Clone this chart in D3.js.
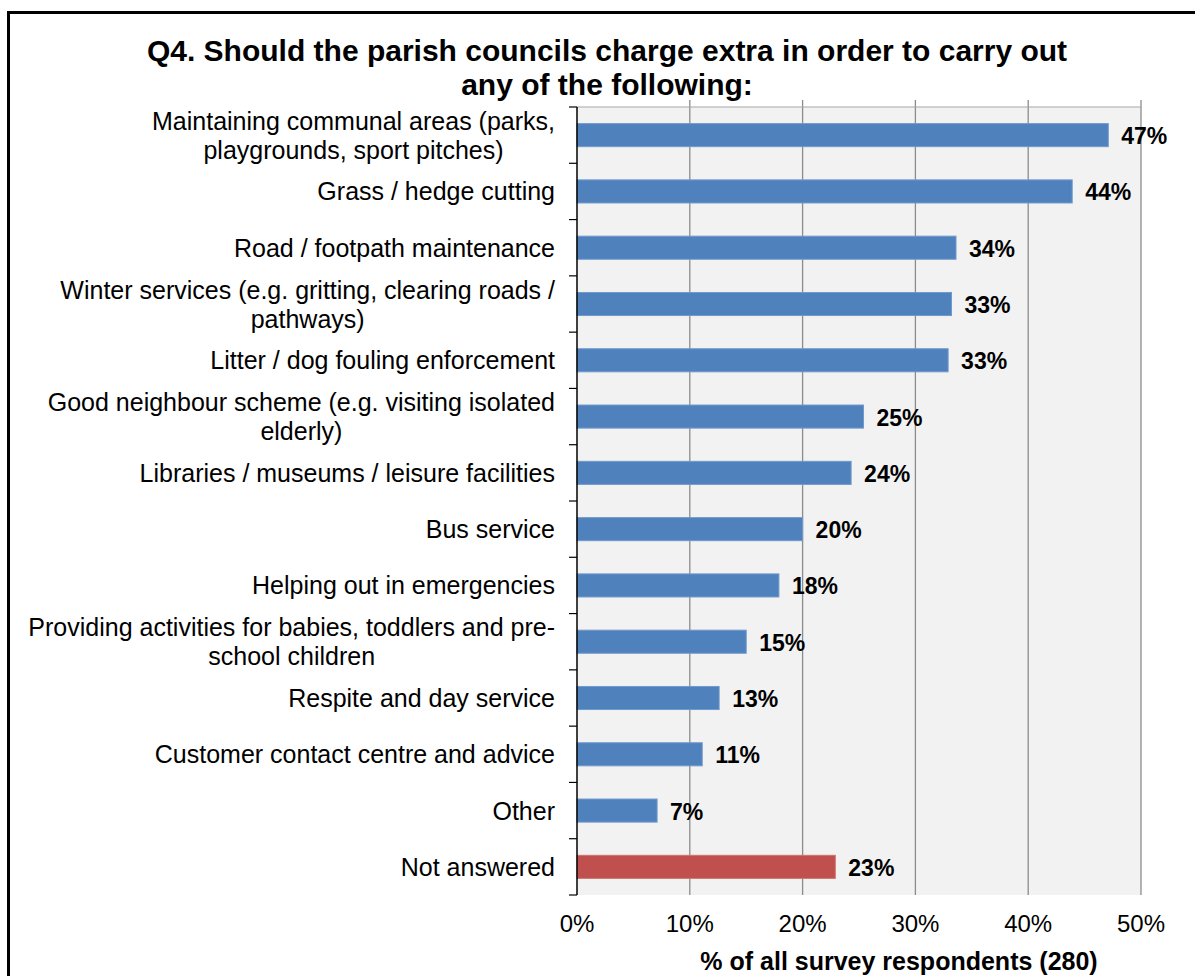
<!DOCTYPE html>
<html>
<head>
<meta charset="utf-8">
<script src="https://cdn.jsdelivr.net/npm/d3@7"></script>
<style>
  html, body { margin: 0; padding: 0; background: #fff; }
  svg { display: block; font-family: "Liberation Sans", Arial, sans-serif; }
</style>
</head>
<body>
<svg id="chart" width="1195" height="976"></svg>
<script>
// categories, top to bottom ("|" marks the line break used in the picture)
const categories = [
  "Maintaining communal areas (parks,|playgrounds, sport pitches)",
  "Grass / hedge cutting",
  "Road / footpath maintenance",
  "Winter services (e.g. gritting, clearing roads /|pathways)",
  "Litter / dog fouling enforcement",
  "Good neighbour scheme (e.g. visiting isolated|elderly)",
  "Libraries / museums / leisure facilities",
  "Bus service",
  "Helping out in emergencies",
  "Providing activities for babies, toddlers and pre-|school children",
  "Respite and day service",
  "Customer contact centre and advice",
  "Other",
  "Not answered"
];
// % of all survey respondents (280)
const values = [47.1, 43.9, 33.6, 33.2, 32.9, 25.4, 24.3, 20.0, 17.9, 15.0, 12.6, 11.1, 7.1, 22.9];
const xTicks = [0, 10, 20, 30, 40, 50];
const titleLines = ["Q4. Should the parish councils charge extra in order to carry out", "any of the following:"];
const xTitle = "% of all survey respondents (280)";

const svg = d3.select("#chart");

// outer frame (left + top edges visible in picture)
svg.append("path")
  .attr("d", "M8.5,976 L8.5,12.5 L1195,12.5")
  .attr("fill", "none").attr("stroke", "#000").attr("stroke-width", 3);

const m = {left: 577, right: 1141, top: 107, bottom: 895};

const x = d3.scaleLinear().domain([0, 50]).range([m.left, m.right]);
const y = d3.scaleBand().domain(d3.range(categories.length))
  .range([m.top, m.bottom]).paddingInner(0.59).paddingOuter(0.295);

// plot background
svg.append("rect")
  .attr("x", m.left).attr("y", m.top)
  .attr("width", m.right - m.left).attr("height", m.bottom - m.top)
  .attr("fill", "#f2f2f2");

// vertical gridlines
svg.append("g").selectAll("line").data(xTicks.slice(1)).join("line")
  .attr("x1", d => x(d)).attr("x2", d => x(d))
  .attr("y1", m.top - 7).attr("y2", m.bottom)
  .attr("stroke", "#8c8c8c").attr("stroke-width", 1.3);

// top border of plot
svg.append("line")
  .attr("x1", m.left).attr("x2", m.right).attr("y1", m.top).attr("y2", m.top)
  .attr("stroke", "#a6a6a6").attr("stroke-width", 1);

// bars
svg.append("g").selectAll("rect").data(values).join("rect")
  .attr("x", x(0))
  .attr("y", (d, i) => y(i))
  .attr("width", d => x(d) - x(0))
  .attr("height", y.bandwidth())
  .attr("fill", (d, i) => i === categories.length - 1 ? "#c0504d" : "#4f81bd")
  .attr("stroke", (d, i) => i === categories.length - 1 ? "#cc7472" : "#7199cc")
  .attr("stroke-width", 1);

// value labels
svg.append("g").selectAll("text").data(values).join("text")
  .attr("x", d => x(d) + 13)
  .attr("y", (d, i) => y(i) + y.bandwidth() / 2 + 9)
  .attr("font-size", 23).attr("font-weight", "bold").attr("fill", "#000")
  .text(d => Math.round(d) + "%");

// left axis with outward ticks on band boundaries
const step = y.step();
const yAxis = svg.append("g");
yAxis.append("line")
  .attr("x1", m.left).attr("x2", m.left).attr("y1", m.top).attr("y2", m.bottom)
  .attr("stroke", "#000").attr("stroke-width", 1.5);
yAxis.selectAll(".tk").data(d3.range(categories.length + 1)).join("line")
  .attr("class", "tk")
  .attr("x1", m.left - 8).attr("x2", m.left)
  .attr("y1", i => m.top + i * step).attr("y2", i => m.top + i * step)
  .attr("stroke", "#000").attr("stroke-width", 1.2);

// category labels
const lab = svg.append("g").selectAll("text").data(categories).join("text")
  .attr("text-anchor", "middle")
  .attr("font-size", 25).attr("fill", "#000");
lab.each(function(d, i) {
  const lines = d.split("|");
  const cy = y(i) + y.bandwidth() / 2;
  const lh = 29;
  const t = d3.select(this);
  lines.forEach((ln, k) => {
    t.append("tspan")
      .attr("y", cy + (k - (lines.length - 1) / 2) * lh + 9)
      .text(ln);
  });
});
// right-aligned block, each line centred within the block
lab.each(function() {
  const spans = d3.select(this).selectAll("tspan");
  let w = 0;
  spans.each(function() { w = Math.max(w, this.getComputedTextLength()); });
  const right = m.left - 22;
  spans.attr("x", right - w / 2);
});

// x tick labels
svg.append("g").selectAll("text").data(xTicks).join("text")
  .attr("x", d => x(d)).attr("y", 932)
  .attr("text-anchor", "middle").attr("font-size", 24).attr("fill", "#000")
  .text(d => d + "%");

// x axis title
svg.append("text")
  .attr("x", 899).attr("y", 970)
  .attr("text-anchor", "middle").attr("font-size", 25).attr("font-weight", "bold")
  .text(xTitle);

// chart title
svg.append("g").selectAll("text").data(titleLines).join("text")
  .attr("x", 607).attr("y", (d, i) => 61 + i * 34)
  .attr("text-anchor", "middle").attr("font-size", 30).attr("font-weight", "bold")
  .text(d => d);
</script>
</body>
</html>
